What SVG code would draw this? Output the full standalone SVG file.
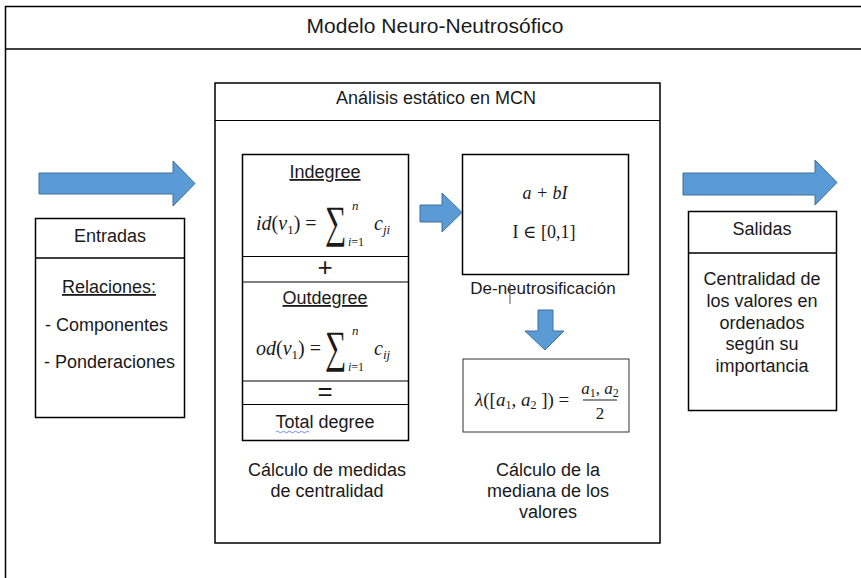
<svg xmlns="http://www.w3.org/2000/svg" width="861" height="578" viewBox="0 0 861 578">
<defs>
<style>
.frame{fill:none;stroke:#000;stroke-width:1.5}
.box{fill:#fff;stroke:#000;stroke-width:1.5}
.thin{fill:#fff;stroke:#333;stroke-width:1}
.t{font-family:"Liberation Sans",Arial,sans-serif;font-size:18px;fill:#1a1a1a;text-anchor:middle}
.m{font-family:"Liberation Serif","DejaVu Serif",serif;font-size:20px;fill:#1a1a1a}
.i{font-style:italic}
.arrow{fill:#5B9BD5;stroke:#41719C;stroke-width:1}
</style>
</defs>
<rect width="861" height="578" fill="#fff"/>

<g id="outer-frame">
<path class="frame" d="M5.5,580 V6.5 H870"/>
<line class="frame" x1="5.5" y1="49" x2="870" y2="49"/>
<text class="t" x="435" y="33" style="font-size:21px">Modelo Neuro-Neutrosófico</text>
</g>

<g id="analisis">
<rect class="box" x="215" y="83" width="445" height="460"/>
<line x1="215" y1="120.5" x2="660" y2="120.5" stroke="#000" stroke-width="1"/>
<text class="t" x="436" y="104">Análisis estático en MCN</text>
<text class="t" x="327" y="476">Cálculo de medidas</text>
<text class="t" x="327" y="497">de centralidad</text>
<text class="t" x="548" y="476">Cálculo de la</text>
<text class="t" x="548" y="497">mediana de los</text>
<text class="t" x="548" y="518">valores</text>
</g>

<g id="entradas">
<rect class="box" x="35.5" y="218.5" width="149" height="199"/>
<line x1="35.5" y1="258" x2="184.5" y2="258" stroke="#000" stroke-width="1.5"/>
<text class="t" x="110" y="242">Entradas</text>
<text class="t" x="109" y="293" text-decoration="underline">Relaciones:</text>
<text class="t" x="45" y="331" style="text-anchor:start">- Componentes</text>
<text class="t" x="44" y="368" style="text-anchor:start">- Ponderaciones</text>
</g>

<g id="salidas">
<rect class="box" x="688.5" y="211.5" width="148" height="199"/>
<line x1="688.5" y1="253" x2="836.5" y2="253" stroke="#000" stroke-width="1.5"/>
<text class="t" x="762" y="235">Salidas</text>
<text class="t" x="762" y="285">Centralidad de</text>
<text class="t" x="762" y="307">los valores en</text>
<text class="t" x="762" y="329">ordenados</text>
<text class="t" x="762" y="350">según su</text>
<text class="t" x="762" y="372">importancia</text>
</g>

<g id="centralidad">
<rect class="box" x="242.5" y="154.5" width="166" height="286"/>
<line x1="242.5" y1="256.5" x2="408.5" y2="256.5" stroke="#000" stroke-width="1"/>
<line x1="242.5" y1="282" x2="408.5" y2="282" stroke="#000" stroke-width="1"/>
<line x1="242.5" y1="381" x2="408.5" y2="381" stroke="#000" stroke-width="1"/>
<line x1="242.5" y1="404.5" x2="408.5" y2="404.5" stroke="#000" stroke-width="1"/>
<text class="t" x="325" y="178" text-decoration="underline">Indegree</text>
<text class="m" x="256" y="230"><tspan class="i">id</tspan>(<tspan class="i">v</tspan><tspan font-size="13" dy="4">1</tspan><tspan dy="-4">) =</tspan></text>
<text class="m" transform="translate(325,237) scale(1,1.5)" style="font-size:30px">∑</text>
<text class="m i" x="352" y="210" style="font-size:13px">n</text>
<text class="m" x="348" y="246" style="font-size:12px"><tspan class="i">i</tspan>=1</text>
<text class="m i" x="374" y="230">c<tspan font-size="13" dy="4">ji</tspan></text>
<text class="t" x="325" y="276" style="font-size:26px">+</text>
<text class="t" x="325" y="304" text-decoration="underline">Outdegree</text>
<text class="m" x="256" y="355"><tspan class="i">od</tspan>(<tspan class="i">v</tspan><tspan font-size="13" dy="4">1</tspan><tspan dy="-4">) =</tspan></text>
<text class="m" transform="translate(325,362) scale(1,1.5)" style="font-size:30px">∑</text>
<text class="m i" x="352" y="335" style="font-size:13px">n</text>
<text class="m" x="348" y="371" style="font-size:12px"><tspan class="i">i</tspan>=1</text>
<text class="m i" x="374" y="355">c<tspan font-size="13" dy="4">ij</tspan></text>
<text class="t" x="325" y="400" style="font-size:26px">=</text>
<text class="t" x="325" y="428">Total degree</text>
<path d="M276,432 q1.5,-1.5 3,0 t3,0 t3,0 t3,0 t3,0 t3,0 t3,0 t3,0 t3,0 t3,0 t3,0" fill="none" stroke="#4a6fd8" stroke-width="0.8"/>
</g>

<g id="neutrosofico">
<rect class="box" x="462.5" y="154.5" width="166" height="120"/>
<text class="m i" x="545" y="199" text-anchor="middle" style="font-size:18px">a + bI</text>
<text class="m" x="544" y="238" text-anchor="middle" style="font-size:18px">I ∈ [0,1]</text>
<text class="t" x="543" y="294" style="font-size:17px">De-neutrosificación</text>
<line x1="510" y1="283" x2="510" y2="304" stroke="#555" stroke-width="1"/>
</g>

<g id="mediana">
<rect class="thin" x="463" y="359" width="166" height="73"/>
<text class="m" x="475" y="406" style="font-size:19px"><tspan class="i">λ</tspan>([<tspan class="i">a</tspan><tspan font-size="12" dy="3">1</tspan><tspan dy="-3">, </tspan><tspan class="i">a</tspan><tspan font-size="12" dy="3">2</tspan><tspan dy="-3"> ]) =</tspan></text>
<text class="m" x="600" y="394" text-anchor="middle" style="font-size:17px"><tspan class="i">a</tspan><tspan font-size="12" dy="3">1</tspan><tspan dy="-3">, </tspan><tspan class="i">a</tspan><tspan font-size="12" dy="3">2</tspan></text>
<line x1="583" y1="400" x2="617" y2="400" stroke="#1a1a1a" stroke-width="1"/>
<text class="m" x="600" y="419" text-anchor="middle" style="font-size:17px">2</text>
</g>

<g id="connectors">
<path class="arrow" d="M39,173 H173 V161 L195,183.5 L173,206 V194 H39 Z"/>
<path class="arrow" d="M683,173 H815 V160 L837,182.5 L815,205 V195 H683 Z"/>
<path class="arrow" d="M420,205 H442 V193 L462,212.5 L442,232 V222 H420 Z"/>
<path class="arrow" d="M538,310 H553 V331 H564 L545,350 L525,331 H538 Z"/>
</g>
</svg>
